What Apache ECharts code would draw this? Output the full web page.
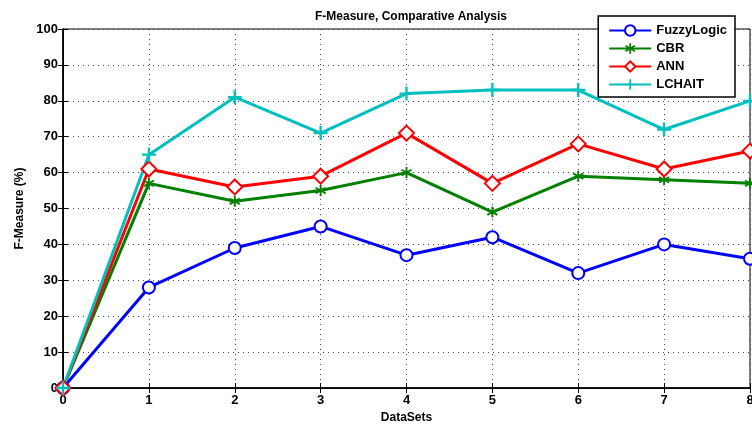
<!DOCTYPE html>
<html>
<head>
<meta charset="utf-8">
<script src="https://cdn.jsdelivr.net/npm/echarts@6/dist/echarts.min.js"></script>
<style>
  html, body { margin: 0; padding: 0; background: #fff; }
  #main { width: 752px; height: 426px; }
</style>
</head>
<body>
<div id="main"></div>
<script>
var dataSets = [0, 1, 2, 3, 4, 5, 6, 7, 8];
var fuzzyLogic = [0, 28, 39, 45, 37, 42, 32, 40, 36];
var cbr = [0, 57, 52, 55, 60, 49, 59, 58, 57];
var ann = [0, 61, 56, 59, 71, 57, 68, 61, 66];
var lchait = [0, 65, 81, 71, 82, 83, 83, 72, 80];

// marker shapes (MATLAB-like)
var plusPath = 'path://M-1,-6h2v5h5v2h-5v5h-2v-5h-5v-2h5z';
var starPath = 'path://M-1,-6h2v4.3l3.7,-2.2l1,1.7l-3.7,2.2l3.7,2.2l-1,1.7l-3.7,-2.2v4.3h-2v-4.3l-3.7,2.2l-1,-1.7l3.7,-2.2l-3.7,-2.2l1,-1.7l3.7,2.2z';

function pairs(vals) {
    return dataSets.map(function (x, i) { return [x, vals[i]]; });
}

var font = 'Liberation Sans, Arial, sans-serif';

function makeSeries(name, vals, color, symbol, size, empty) {
    return {
        name: name,
        type: 'line',
        data: pairs(vals),
        symbol: symbol,
        symbolSize: size,
        showAllSymbol: true,
        lineStyle: { color: color, width: 3 },
        itemStyle: empty ? { color: color, borderWidth: 3 } : { color: color, borderWidth: 0 },
        emphasis: { disabled: true },
        z: 3
    };
}

var chart = echarts.init(document.getElementById('main'));
chart.setOption({
    animation: false,
    title: {
        text: 'F-Measure, Comparative Analysis',
        left: 406, textAlign: 'center', top: 6,
        textStyle: { fontFamily: font, fontSize: 12, fontWeight: 'bold', color: '#000' }
    },
    legend: {
        orient: 'vertical',
        right: 17, top: 16,
        backgroundColor: '#fff',
        borderColor: '#000', borderWidth: 1.5,
        padding: [8, 8, 6, 10],
        itemGap: 5,
        itemWidth: 42, itemHeight: 13,
        textStyle: { fontFamily: font, fontSize: 13, fontWeight: 'bold', color: '#000' },
        data: ['FuzzyLogic', 'CBR', 'ANN', 'LCHAIT'],
        z: 10
    },
    grid: {
        left: 63, right: 2, top: 29, bottom: 38,
        outerBoundsMode: 'none',
        show: true, borderColor: '#000', borderWidth: 1, backgroundColor: '#fff'
    },
    xAxis: [{
        type: 'value', min: 0, max: 8, interval: 1,
        name: 'DataSets', nameLocation: 'middle', nameGap: 21,
        nameTextStyle: { fontFamily: font, fontSize: 12, fontWeight: 'bold', color: '#000' },
        axisLine: { lineStyle: { color: '#000', width: 1.5 } },
        axisTick: { inside: true, length: 5, lineStyle: { color: '#000' } },
        axisLabel: { margin: 6, fontFamily: font, fontSize: 13, fontWeight: 'bold', color: '#000' },
        splitLine: { show: true, lineStyle: { color: '#444', type: [1, 4], width: 1 } }
    }, {
        type: 'value', min: 0, max: 8, interval: 1, position: 'top',
        axisLine: { lineStyle: { color: '#000' } },
        axisTick: { inside: true, length: 5, lineStyle: { color: '#000' } },
        axisLabel: { show: false }, splitLine: { show: false }
    }],
    yAxis: [{
        type: 'value', min: 0, max: 100, interval: 10,
        name: 'F-Measure (%)', nameLocation: 'middle', nameGap: 35,
        nameTextStyle: { fontFamily: font, fontSize: 12, fontWeight: 'bold', color: '#000' },
        axisLine: { show: true, lineStyle: { color: '#000', width: 1.5 } },
        axisTick: { show: true, inside: true, length: 5, lineStyle: { color: '#000' } },
        axisLabel: { margin: 5, fontFamily: font, fontSize: 13, fontWeight: 'bold', color: '#000' },
        splitLine: { show: true, lineStyle: { color: '#444', type: [1, 4], width: 1 } }
    }, {
        type: 'value', min: 0, max: 100, interval: 10, position: 'right',
        axisLine: { show: true, lineStyle: { color: '#000' } },
        axisTick: { show: true, inside: true, length: 5, lineStyle: { color: '#000' } },
        axisLabel: { show: false }, splitLine: { show: false }
    }],
    series: [
        makeSeries('FuzzyLogic', fuzzyLogic, '#0000ff', 'emptyCircle', 12, true),
        makeSeries('CBR', cbr, '#008000', starPath, 11, false),
        makeSeries('ANN', ann, '#ff0000', 'emptyDiamond', 15, true),
        makeSeries('LCHAIT', lchait, '#00bfbf', plusPath, 14, false)
    ]
});
</script>
</body>
</html>
